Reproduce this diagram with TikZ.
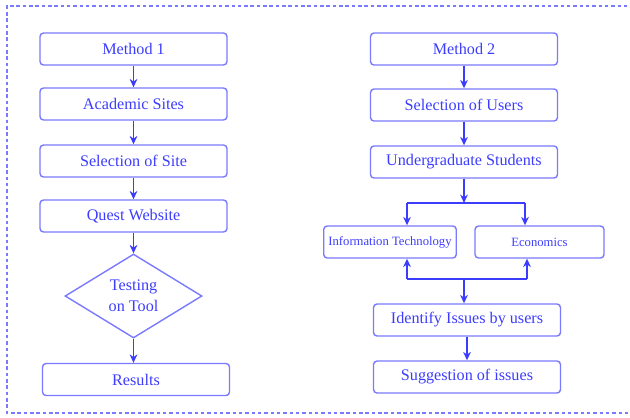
\documentclass[tikz,border=0pt]{standalone}
\usepackage{fontspec}
\setmainfont{Liberation Serif}
\usetikzlibrary{arrows, arrows.meta, shapes.geometric, positioning, calc}
\definecolor{txtblue}{HTML}{3C3CFF}
\definecolor{boxblue}{HTML}{7A7AFF}
\tikzset{
  stepbox/.style={draw=boxblue, line width=1pt, rounded corners=2.5pt, text=txtblue,
    minimum width=187*0.025cm, minimum height=32*0.025cm, font=\rmfamily\fontsize{11.5}{13}\selectfont},
  smallbox/.style={stepbox, minimum width=129*0.025cm, font=\rmfamily\fontsize{9}{10}\selectfont},
  testbox/.style={draw=boxblue, line width=1pt, diamond, aspect=1.63, text=txtblue, inner sep=0pt,
    minimum width=137*0.025cm, minimum height=84*0.025cm, align=center, font=\rmfamily\fontsize{11.5}{15}\selectfont},
  link/.style={draw=txtblue, line width=0.9pt}
}
\begin{document}
\begin{tikzpicture}[>={Stealth[length=6pt,width=5.5pt]}, x=0.025cm, y=-0.025cm]
      \useasboundingbox (0,0) rectangle (630,417);
      \draw[boxblue, dash pattern=on 2.5pt off 2pt, line width=0.8pt] (640,6) -- (7,6) -- (7,413) -- (640,413);

      % left flow
      \node[stepbox] (m1) at (133.5,49) {Method 1};
      \node[stepbox] (acad) at (133.5,104) {Academic Sites};
      \node[stepbox] (site) at (133.5,161) {Selection of Site};
      \node[stepbox] (quest) at (133.5,216) {Quest Website};
      \node[testbox] (test) at (133.5,296) {Testing\\on Tool};
      \node[stepbox] (res) at (136,379.5) {Results};

      \draw[link, ->] (m1) -- (acad);
      \draw[link, ->] (acad) -- (site);
      \draw[link, ->] (site) -- (quest);
      \draw[link, ->] (quest) -- (test);
      \draw[link, ->] (test) -- (test.south |- res.north);

      % right flow
      \node[stepbox] (m2) at (464,49) {Method 2};
      \node[stepbox] (users) at (464,105) {Selection of Users};
      \node[stepbox] (ug) at (464,162) {Undergraduate Students};
      \node[smallbox] (it) at (390,242) {Information Technology};
      \node[smallbox] (eco) at (539.5,242) {Economics};
      \node[stepbox] (iss) at (467,320) {Identify Issues by users};
      \node[stepbox] (sugg) at (467,377) {Suggestion of issues};

      \coordinate (split) at (464,203);
      \coordinate (lt) at (407,203);
      \coordinate (rt) at (525,203);
      \coordinate (join) at (464,279);
      \coordinate (lb) at (407,279);
      \coordinate (rb) at (527,279);

      \draw[link, ->] (m2) -- (users);
      \draw[link, ->] (users) -- (ug);
      \draw[link, ->] (ug) -- (split);
      \draw[link] (lt) -- (rt);
      \draw[link, ->] (lt) -- (lt |- it.north);
      \draw[link, ->] (rt) -- (rt |- eco.north);
      \draw[link] (lb) -- (rb);
      \draw[link, ->] (lb) -- (lb |- it.south);
      \draw[link, ->] (rb) -- (rb |- eco.south);
      \draw[link, ->] (join) -- (join |- iss.north);
      \draw[link, ->] (iss) -- (sugg);

    \end{tikzpicture}
\end{document}
